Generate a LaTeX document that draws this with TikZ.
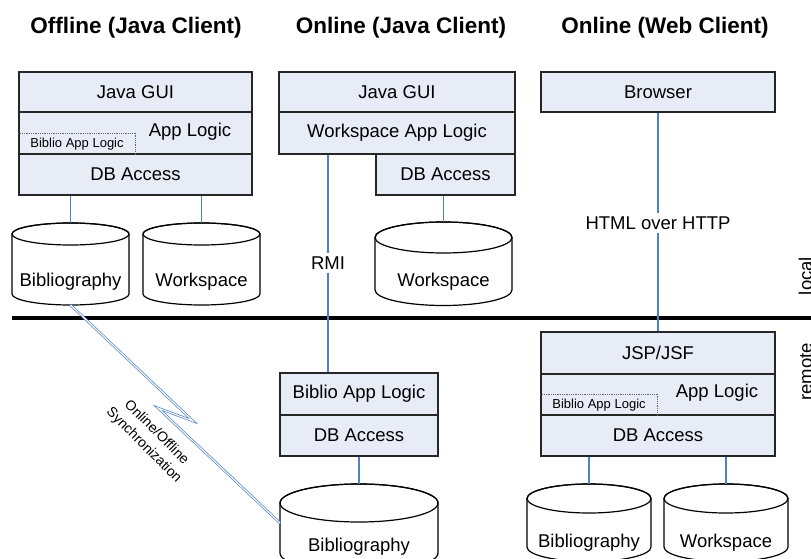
\documentclass[tikz,border=0pt]{standalone}
\usepackage{fontspec}
\setmainfont{Liberation Sans}
\definecolor{layerfill}{RGB}{231,236,247}
\definecolor{linkblue}{RGB}{79,129,199}
\tikzset{
  layer/.style={draw=black!85, line width=1.3pt, fill=layerfill, inner sep=0pt,
    font=\fontsize{18.5}{22}\selectfont},
  link/.style={draw=linkblue, line width=1.1pt},
  sync/.style={draw=linkblue, line width=0.7pt, double=white, double distance=1.1pt, line join=miter},
  db/.style={draw=black, line width=1.2pt, fill=white},
  lbl/.style={inner sep=3pt, fill=white, font=\fontsize{18.5}{22}\selectfont},
  plain/.style={inner sep=0pt, font=\fontsize{18.5}{22}\selectfont},
  small/.style={inner sep=0pt, font=\fontsize{13}{15}\selectfont},
  dotline/.style={draw=black!60, line width=0.8pt, densely dotted},
  title/.style={inner sep=0pt, font=\bfseries\fontsize{22.5}{26}\selectfont},
  divider/.style={line width=4.5pt, draw=black},
}
% database cylinder: name, centre x, top y, x radius, y radius, y where the sides end, text y, text
\newcommand\dbcyl[8]{%
  \draw[db] (#2-#4,#3+#5) -- (#2-#4,#6)
    arc[start angle=180, end angle=360, x radius=#4pt, y radius=#5pt]
    -- (#2+#4,#3+#5)
    arc[start angle=0, end angle=180, x radius=#4pt, y radius=#5pt] -- cycle;
  \draw[db, fill=none] (#2,#3+#5) ellipse[x radius=#4pt, y radius=#5pt];
  \coordinate (#1-top) at (#2,#3);
  \coordinate (#1-bottom) at (#2,#6+#5);
  \node[plain] (#1) at (#2,#7) {#8};
}
\begin{document}
\begin{tikzpicture}[x=1pt, y=-1pt]
\useasboundingbox (0,0) rectangle (811,559);
\clip (0,0) rectangle (811,559);

% column titles
\node[title] (t1) at (136,28) {Offline (Java Client)};
\node[title] (t2) at (401,28) {Online (Java Client)};
\node[title] (t3) at (665,28) {Online (Web Client)};

% local / remote divider
\draw[divider] (12,318) -- (815,318);
\node[plain, rotate=90, anchor=base] (local) at (812,276) {local};
\node[plain, rotate=90, anchor=base] (remote) at (812,372) {remote};

% offline Java client
\node[layer, minimum width=233pt, minimum height=40pt] (guiA) at (135.5,92) {Java GUI};
\node[layer, minimum width=233pt, minimum height=42pt] (logicA) at (135.5,133) {};
\node[layer, minimum width=233pt, minimum height=41pt] (dbA) at (135.5,174.5) {DB Access};
\node[plain] (applogA) at (190,132) {App Logic};
\node[small, minimum width=117pt, minimum height=21pt, anchor=south west] (biblA) at (logicA.south west) {Biblio App Logic};
\draw[dotline] (biblA.north west) -- (biblA.north east) -- (biblA.south east);

\dbcyl{bibA}{70.5}{223}{58.5}{11}{294}{282}{Bibliography}
\dbcyl{wsA}{201.5}{223}{58.5}{11}{294}{282}{Workspace}
\draw[link] (dbA.south -| bibA-top) -- (bibA-top);
\draw[link] (dbA.south -| wsA-top) -- (wsA-top);

% online Java client
\node[layer, minimum width=236pt, minimum height=40pt] (guiB) at (397,92) {Java GUI};
\node[layer, minimum width=236pt, minimum height=42pt] (wlogicB) at (397,133) {Workspace App Logic};
\node[layer, minimum width=139pt, minimum height=41pt] (dbB) at (445.5,174.5) {DB Access};
\dbcyl{wsB}{443.5}{222}{68.5}{15.5}{290}{282}{Workspace}
\draw[link] (dbB.south -| wsB-top) -- (wsB-top);

% server side for the Java client
\node[layer, minimum width=158pt, minimum height=42pt] (blogicS) at (359,394) {Biblio App Logic};
\node[layer, minimum width=158pt, minimum height=41pt] (dbS) at (359,435.5) {DB Access};
\dbcyl{bibS}{359}{484}{79}{19}{553}{547}{Bibliography}
\draw[link] (dbS.south -| bibS-top) -- (bibS-top);

\node[lbl] (rmi) at (328,263) {RMI};
\draw[link] (wlogicB.south -| rmi) -- (rmi);
\draw[link] (rmi) -- (blogicS.north -| rmi);

% web client
\node[layer, minimum width=234pt, minimum height=40pt] (browser) at (658,92) {Browser};
\node[layer, minimum width=234pt, minimum height=42pt] (jsp) at (658,353) {JSP/JSF};
\node[layer, minimum width=234pt, minimum height=41pt] (logicW) at (658,394.5) {};
\node[layer, minimum width=234pt, minimum height=41pt] (dbW) at (658,435.5) {DB Access};
\node[plain] (applogW) at (717,393) {App Logic};
\node[small, minimum width=117pt, minimum height=21pt, anchor=south west] (biblW) at (logicW.south west) {Biblio App Logic};
\draw[dotline] (biblW.north west) -- (biblW.north east) -- (biblW.south east);

\node[lbl] (http) at (658,223) {HTML over HTTP};
\draw[link] (browser) -- (http);
\draw[link] (http) -- (jsp);

\dbcyl{bibW}{589}{484}{62}{14.5}{547}{543}{Bibliography}
\dbcyl{wsW}{726}{484}{62}{14.5}{547}{543}{Workspace}
\draw[link] (dbW.south -| bibW-top) -- (bibW-top);
\draw[link] (dbW.south -| wsW-top) -- (wsW-top);

% online/offline synchronisation link
\coordinate (zigA) at (193,421);
\coordinate (zigB) at (158,408);
\coordinate (bibS-west) at (280,523);
\draw[sync] (bibA-bottom) -- (zigA) -- (zigB) -- (bibS-west);
\node[rotate=-45, align=center, inner sep=0pt, font=\fontsize{14}{18}\selectfont] (synctext) at (150,439) {Online/Offline\\Synchronization};
\end{tikzpicture}
\end{document}
